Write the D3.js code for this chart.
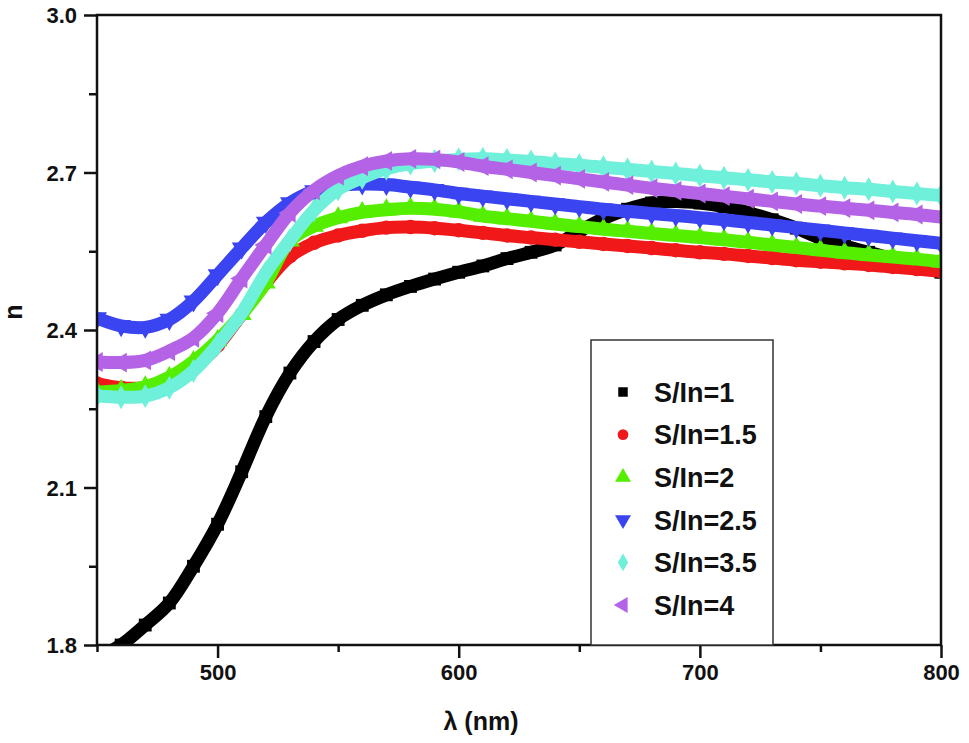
<!DOCTYPE html>
<html>
<head>
<meta charset="utf-8">
<script src="https://cdn.jsdelivr.net/npm/d3@7"></script>
<style>
  body { margin: 0; background: #fff; }
  text { font-family: "Liberation Sans", Arial, sans-serif; font-weight: bold; fill: #111; }
</style>
</head>
<body>
<div id="chart"></div>
<script>
var width = 969, height = 743,
    margin = { top: 15, right: 28, bottom: 98, left: 97 };

// wavelength grid (nm)
var lambda = [450, 460, 470, 480, 490, 500, 510, 520, 530, 540, 550, 560, 570, 580, 590, 600, 610, 620,
    630, 640, 650, 660, 670, 680, 690, 700, 710, 720, 730, 740, 750, 760, 770, 780, 790, 800];

var seriesNames = ["S/In=1", "S/In=1.5", "S/In=2", "S/In=2.5", "S/In=3.5", "S/In=4"];

// refractive index, one value per wavelength
var n1 = [1.775, 1.800, 1.838, 1.880, 1.950, 2.030, 2.130, 2.235, 2.318, 2.378, 2.420, 2.447, 2.467, 2.483,
    2.497, 2.510, 2.522, 2.536, 2.548, 2.562, 2.588, 2.612, 2.630, 2.642, 2.645, 2.642, 2.635, 2.624,
    2.610, 2.594, 2.575, 2.560, 2.548, 2.535, 2.522, 2.510];
var n15 = [2.298, 2.290, 2.290, 2.300, 2.328, 2.370, 2.430, 2.490, 2.540, 2.566, 2.580, 2.589, 2.595, 2.596,
    2.594, 2.590, 2.585, 2.580, 2.576, 2.572, 2.568, 2.564, 2.560, 2.556, 2.552, 2.548, 2.545, 2.541,
    2.537, 2.533, 2.530, 2.527, 2.524, 2.520, 2.516, 2.512];
var n2 = [2.282, 2.285, 2.292, 2.310, 2.340, 2.380, 2.430, 2.490, 2.570, 2.598, 2.614, 2.624, 2.629, 2.632,
    2.630, 2.625, 2.617, 2.612, 2.607, 2.602, 2.597, 2.592, 2.588, 2.584, 2.580, 2.576, 2.572, 2.567,
    2.562, 2.557, 2.552, 2.547, 2.543, 2.539, 2.535, 2.530];
var n25 = [2.423, 2.408, 2.405, 2.420, 2.455, 2.505, 2.556, 2.605, 2.642, 2.665, 2.675, 2.678, 2.677, 2.672,
    2.667, 2.660, 2.655, 2.650, 2.645, 2.640, 2.635, 2.630, 2.626, 2.622, 2.618, 2.614, 2.610, 2.605,
    2.600, 2.595, 2.590, 2.585, 2.580, 2.575, 2.570, 2.565];
var n35 = [2.275, 2.272, 2.274, 2.290, 2.322, 2.372, 2.432, 2.509, 2.571, 2.628, 2.668, 2.690, 2.707, 2.717,
    2.722, 2.725, 2.726, 2.724, 2.721, 2.717, 2.714, 2.710, 2.706, 2.702, 2.698, 2.694, 2.690, 2.686,
    2.682, 2.679, 2.675, 2.671, 2.668, 2.664, 2.660, 2.656];
var n4 = [2.339, 2.338, 2.342, 2.360, 2.385, 2.432, 2.498, 2.562, 2.623, 2.666, 2.694, 2.712, 2.722, 2.726,
    2.725, 2.720, 2.712, 2.706, 2.700, 2.694, 2.688, 2.682, 2.676, 2.670, 2.665, 2.660, 2.655, 2.650,
    2.645, 2.640, 2.636, 2.632, 2.628, 2.624, 2.620, 2.615];

var xTicks = [500, 600, 700, 800],
    xMinor = [450, 550, 650, 750],
    yTicks = [1.8, 2.1, 2.4, 2.7, 3.0],
    yMinor = [1.95, 2.25, 2.55, 2.85];

var colors = ["#000000", "#f01818", "#55ee00", "#3a44f0", "#6ef0da", "#b463e6"],
    shapes = [d3.symbolSquare, d3.symbolCircle, d3.symbolTriangle, d3.symbolTriangle, d3.symbolDiamond, d3.symbolTriangle],
    rotations = [0, 0, 0, 180, 0, -90];

var allSeries = [n1, n15, n2, n25, n35, n4];

var svg = d3.select("#chart").append("svg")
    .attr("width", width)
    .attr("height", height);

var w = width - margin.left - margin.right,
    h = height - margin.top - margin.bottom;

var x = d3.scaleLinear().domain([450, 800]).range([margin.left, margin.left + w]);
var y = d3.scaleLinear().domain([1.8, 3.0]).range([margin.top + h, margin.top]);

svg.append("clipPath").attr("id", "plot-clip")
  .append("rect")
    .attr("x", margin.left).attr("y", margin.top)
    .attr("width", w).attr("height", h);

var plot = svg.append("g").attr("clip-path", "url(#plot-clip)");

var line = d3.line()
    .x(function(d, i) { return x(lambda[i]); })
    .y(function(d) { return y(d); })
    .curve(d3.curveCatmullRom);

allSeries.forEach(function(vals, s) {
    var g = plot.append("g");
    g.append("path")
        .datum(vals)
        .attr("d", line)
        .attr("fill", "none")
        .attr("stroke", colors[s])
        .attr("stroke-width", 13)
        .attr("stroke-linejoin", "round");
    g.selectAll(".pt")
        .data(vals)
        .enter().append("path")
        .attr("class", "pt")
        .attr("d", d3.symbol().type(shapes[s]).size(shapes[s] == d3.symbolTriangle ? 170 : 165))
        .attr("transform", function(d, i) {
            return "translate(" + x(lambda[i]) + "," + y(d) + ") rotate(" + rotations[s] + ")";
        })
        .attr("fill", colors[s]);
});

// axes
var xAxis = svg.append("g")
    .attr("transform", "translate(0," + (margin.top + h) + ")")
    .call(d3.axisBottom(x).tickValues(xTicks).tickSize(13).tickPadding(6).tickFormat(d3.format("d")));
var xAxisMinor = svg.append("g")
    .attr("transform", "translate(0," + (margin.top + h) + ")")
    .call(d3.axisBottom(x).tickValues(xMinor).tickSize(7).tickFormat(""));
var yAxis = svg.append("g")
    .attr("transform", "translate(" + margin.left + ",0)")
    .call(d3.axisLeft(y).tickValues(yTicks).tickSize(13).tickPadding(7).tickFormat(d3.format(".1f")));
var yAxisMinor = svg.append("g")
    .attr("transform", "translate(" + margin.left + ",0)")
    .call(d3.axisLeft(y).tickValues(yMinor).tickSize(8).tickFormat(""));

[xAxis, xAxisMinor, yAxis, yAxisMinor].forEach(function(a) {
    a.select(".domain").remove();
    a.selectAll(".tick line").attr("stroke", "#111").attr("stroke-width", 2.5);
    a.selectAll(".tick text").style("font-size", "22px").attr("fill", "#111");
});
yAxis.selectAll(".tick text").attr("dy", "0.36em");

// frame
svg.append("rect")
    .attr("x", margin.left).attr("y", margin.top)
    .attr("width", w).attr("height", h)
    .attr("fill", "none")
    .attr("stroke", "#111")
    .attr("stroke-width", 2.5);

// axis titles
svg.append("text")
    .attr("x", 481)
    .attr("y", 730)
    .attr("text-anchor", "middle")
    .style("font-size", "25px")
    .text("λ (nm)");

svg.append("text")
    .attr("transform", "translate(22,312) rotate(-90)")
    .attr("text-anchor", "middle")
    .style("font-size", "25px")
    .text("n");

// legend
var legend = svg.append("g").attr("transform", "translate(591,340)");
legend.append("rect")
    .attr("width", 182)
    .attr("height", margin.top + h - 340)
    .attr("fill", "#fff")
    .attr("stroke", "#333")
    .attr("stroke-width", 1.5);

var items = legend.selectAll(".legend-item")
    .data(seriesNames)
    .enter().append("g")
    .attr("class", "legend-item")
    .attr("transform", function(d, i) { return "translate(0," + (52 + i * 42.6) + ")"; });

items.append("path")
    .attr("d", function(d, i) { return d3.symbol().type(shapes[i]).size(shapes[i] == d3.symbolTriangle ? 110 : 90)(); })
    .attr("transform", function(d, i) { return "translate(32,0) rotate(" + rotations[i] + ")"; })
    .attr("fill", function(d, i) { return colors[i]; });

items.append("text")
    .attr("x", 63)
    .attr("y", 0)
    .attr("dy", "0.36em")
    .style("font-size", "27px")
    .text(function(d) { return d; });
</script>
</body>
</html>
